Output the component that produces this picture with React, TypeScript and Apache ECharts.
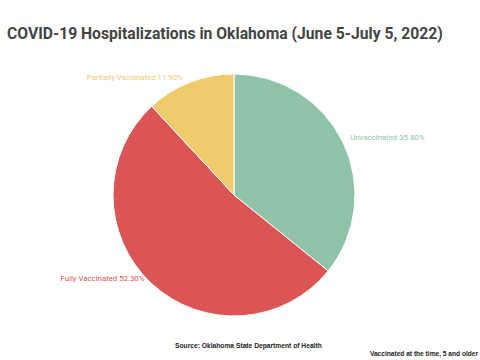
import React, { useEffect, useRef } from "react";
import * as echarts from "echarts";

const categories = ["Unvaccinated", "Fully Vaccinated", "Partially Vaccinated"];
const values = [35.8, 52.3, 11.9];
const colors = ["#8fc3a7", "#dc5555", "#efcb6c"];

export default function App() {
  const ref = useRef<HTMLDivElement>(null);
  useEffect(() => {
    document.body.style.margin = "0";
    const chart = echarts.init(ref.current!, null, { renderer: "svg" });
    chart.setOption({
      animation: false,
      backgroundColor: "#ffffff",
      title: {
        text: "COVID-19 Hospitalizations in Oklahoma (June 5-July 5, 2022)",
        left: 2,
        top: 20,
        textStyle: { fontFamily: "Roboto", fontWeight: "bold", fontSize: 15.7, color: "#444444" },
      },
      graphic: [
        {
          type: "text",
          left: 175,
          top: 342,
          style: { text: "Source: Oklahoma State Department of Health", font: "bold 6.7px 'Liberation Sans', Arial", fill: "#222" },
        },
        {
          type: "text",
          right: 2,
          top: 350,
          style: { text: "Vaccinated at the time, 5 and older", font: "bold 6.6px 'Liberation Sans', Arial", fill: "#222" },
        },
      ],
      series: [
        {
          type: "pie",
          center: [234, 195],
          radius: 121,
          startAngle: 90,
          clockwise: true,
          itemStyle: { borderColor: "#ffffff", borderWidth: 1 },
          label: {
            show: true,
            fontFamily: "Roboto",
            fontSize: 7.8,
            formatter: (p: any) => `${p.name} ${p.value.toFixed(2)}%`,
            color: "inherit",
          },
          labelLine: { show: false, length: 0, length2: 2 },
          labelLayout: { dy: -5 },
          data: categories.map((c, i) => ({
            name: c,
            value: values[i],
            itemStyle: { color: colors[i] },
            label: { color: colors[i] },
          })),
        },
      ],
    });
    return () => chart.dispose();
  }, []);
  return <div ref={ref} style={{ width: 480, height: 360 }} />;
}
